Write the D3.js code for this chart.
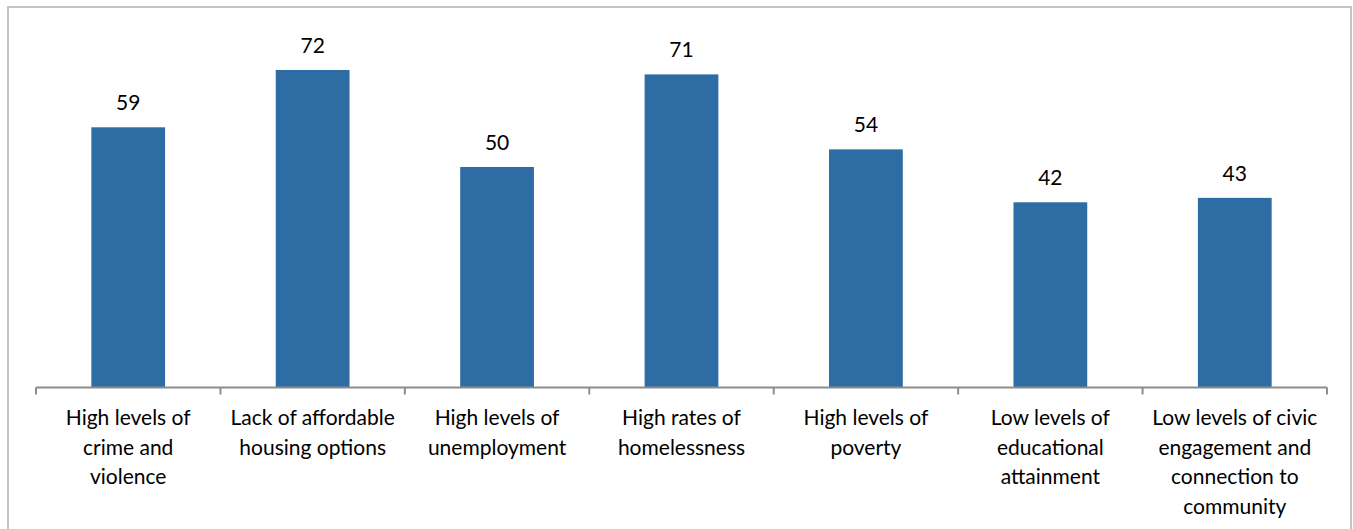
<!DOCTYPE html>
<html><head><meta charset="utf-8">
<script src="https://cdn.jsdelivr.net/npm/d3@7"></script>
<style>
html,body{margin:0;padding:0;background:#fff;}
svg{display:block;}
</style></head>
<body>
<svg id="chart" width="1353" height="529"></svg>
<script>
const categories = [
  ["High levels of","crime and","violence"],
  ["Lack of affordable","housing options"],
  ["High levels of","unemployment"],
  ["High rates of","homelessness"],
  ["High levels of","poverty"],
  ["Low levels of","educational","attainment"],
  ["Low levels of civic","engagement and","connection to","community"]
];
const values = [59, 72, 50, 71, 54, 42, 43];

const svg = d3.select("#chart");
const W = 1353, H = 529;
const font = "Lato, 'Open Sans', sans-serif";

// border
svg.append("path")
  .attr("d", `M8,${H+2} L8,7 L1351,7 L1351,${H+2}`)
  .attr("fill","none").attr("stroke","#c4c4c4").attr("stroke-width",2);

const x0 = 36, x1 = 1327, yBase = 387.5;
const x = d3.scaleBand().domain(d3.range(categories.length)).range([x0, x1]).paddingInner(0.6).paddingOuter(0.3);
const y = d3.scaleLinear().domain([0, 80]).range([yBase, yBase - 80*4.41]);

svg.selectAll("rect.bar").data(values).join("rect")
  .attr("class","bar")
  .attr("x",(d,i)=>x(i)).attr("width",x.bandwidth())
  .attr("y",d=>y(d)).attr("height",d=>yBase-y(d))
  .attr("fill","#2E6DA4");

svg.selectAll("text.val").data(values).join("text")
  .attr("class","val")
  .attr("x",(d,i)=>x(i)+x.bandwidth()/2)
  .attr("y",d=>y(d)-17)
  .attr("text-anchor","middle")
  .attr("font-family",font).attr("font-size",21)
  .attr("fill","#000")
  .text(d=>d);

// axis
const step = (x1-x0)/categories.length;
const g = svg.append("g");
g.append("line").attr("x1",x0).attr("x2",x1).attr("y1",yBase).attr("y2",yBase)
  .attr("stroke","#8c8c8c").attr("stroke-width",2);
g.selectAll("line.tick").data(d3.range(categories.length+1)).join("line")
  .attr("class","tick")
  .attr("x1",i=>x0+i*step).attr("x2",i=>x0+i*step)
  .attr("y1",yBase).attr("y2",yBase+7)
  .attr("stroke","#8c8c8c").attr("stroke-width",2);

const lab = svg.selectAll("text.cat").data(categories).join("text")
  .attr("class","cat")
  .attr("text-anchor","middle")
  .attr("font-family",font).attr("font-size",21)
  .attr("fill","#000");
lab.each(function(lines,i){
  const t = d3.select(this);
  lines.forEach((l,j)=>{
    t.append("tspan").attr("x", x(i)+x.bandwidth()/2).attr("y", 425 + j*29.5).text(l);
  });
});
</script>
</body></html>
